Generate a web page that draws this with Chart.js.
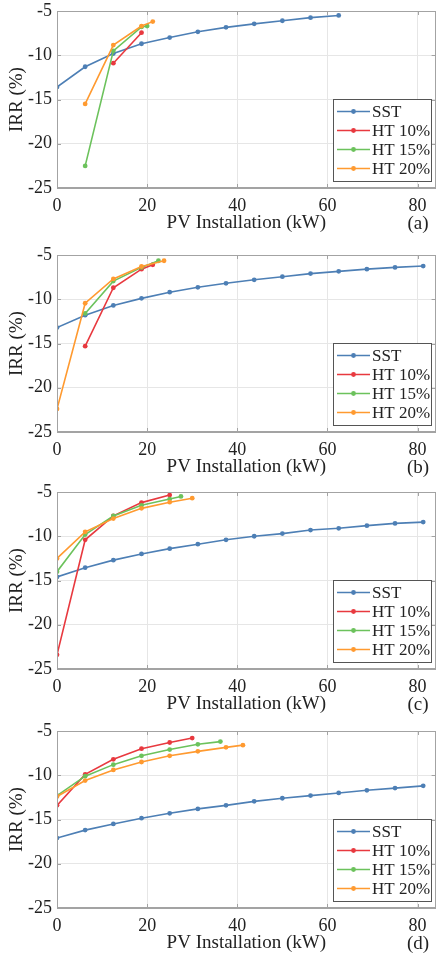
<!DOCTYPE html>
<html>
<head>
<meta charset="utf-8">
<script src="https://cdn.jsdelivr.net/npm/chart.js@4.4.1/dist/chart.umd.min.js"></script>
<style>
  body { margin: 0; background: #fff; width: 438px; overflow: hidden; }
  canvas { display: block; }
</style>
</head>
<body>
<canvas id="grafica_a" width="438" height="244"></canvas>
<canvas id="grafica_b" width="438" height="237"></canvas>
<canvas id="grafica_c" width="438" height="239"></canvas>
<canvas id="grafica_d" width="438" height="238"></canvas>
<script>
// ticks y nombres
const ticks_x = [0, 20, 40, 60, 80]
const ticks_y = [-25, -20, -15, -10, -5]
const nombres_series = ['SST', 'HT 10%', 'HT 15%', 'HT 20%']
const etiquetas_panel = ['(a)', '(b)', '(c)', '(d)']

// paso comun de la instalacion PV (kW)
const pv_sst_corto = [0, 6.25, 12.5, 18.75, 25, 31.25, 37.5, 43.75, 50, 56.25, 62.5]
const pv_sst_largo = [0, 6.25, 12.5, 18.75, 25, 31.25, 37.5, 43.75, 50, 56.25, 62.5, 68.75, 75, 81.25]

// (a)
const irr_sst_a = [-13.6, -11.3, -9.8, -8.7, -8.0, -7.35, -6.85, -6.45, -6.1, -5.75, -5.5]
const pv_ht10_a = [12.5, 18.75]
const irr_ht10_a = [-10.9, -7.45]
const pv_ht15_a = [6.25, 12.5, 18.75, 20]
const irr_ht15_a = [-22.5, -9.5, -6.8, -6.7]
const pv_ht20_a = [6.25, 12.5, 18.75, 21.25]
const irr_ht20_a = [-15.5, -8.85, -6.7, -6.2]

// (b)
const irr_sst_b = [-13.2, -11.8, -10.7, -9.9, -9.2, -8.65, -8.2, -7.8, -7.45, -7.1, -6.85, -6.6, -6.4, -6.25]
const pv_ht10_b = [6.25, 12.5, 18.75, 21.25]
const irr_ht10_b = [-15.3, -8.7, -6.6, -6.1]
const pv_ht15_b = [6.25, 12.5, 18.75, 22.5]
const irr_ht15_b = [-11.6, -7.95, -6.4, -5.65]
const pv_ht20_b = [0, 6.25, 12.5, 18.75, 23.75]
const irr_ht20_b = [-22.4, -10.45, -7.7, -6.3, -5.65]

// (c)
const irr_sst_c = [-14.6, -13.55, -12.7, -12.0, -11.4, -10.9, -10.4, -10.0, -9.7, -9.3, -9.1, -8.8, -8.55, -8.4]
const pv_ht10_c = [0, 6.25, 12.5, 18.75, 25]
const irr_ht10_c = [-23.4, -10.4, -7.7, -6.2, -5.35]
const pv_ht15_c = [0, 6.25, 12.5, 18.75, 25, 27.5]
const irr_ht15_c = [-14.0, -9.8, -7.7, -6.5, -5.8, -5.5]
const pv_ht20_c = [0, 6.25, 12.5, 18.75, 25, 30]
const irr_ht20_c = [-12.5, -9.5, -8.0, -6.85, -6.15, -5.7]

// (d)
const irr_sst_d = [-17.1, -16.2, -15.5, -14.85, -14.3, -13.8, -13.4, -12.95, -12.6, -12.3, -12.0, -11.7, -11.45, -11.2]
const pv_ht10_d = [0, 6.25, 12.5, 18.75, 25, 30]
const irr_ht10_d = [-13.4, -9.9, -8.2, -7.0, -6.3, -5.8]
const pv_ht15_d = [0, 6.25, 12.5, 18.75, 25, 31.25, 36.25]
const irr_ht15_d = [-12.3, -10.1, -8.8, -7.8, -7.1, -6.5, -6.2]
const pv_ht20_d = [0, 6.25, 12.5, 18.75, 25, 31.25, 37.5, 41.25]
const irr_ht20_d = [-12.4, -10.6, -9.4, -8.5, -7.8, -7.3, -6.85, -6.6]

const colores = ['#4d7fb5', '#e8393f', '#6cc25c', '#ff9a30']
const fuente = '"Liberation Serif", "Times New Roman", serif'
const color_texto = '#222'
const color_marco = '#a3a3a3'

function puntos(xs, ys) {
  return xs.map((x, i) => ({ x: x, y: ys[i] }))
}

// caja completa, ticks internos, leyenda y etiqueta del panel
const marco_matlab = {
  id: 'marco_matlab',
  afterDraw(chart, args, opts) {
    const ctx = chart.ctx
    const a = chart.chartArea
    ctx.save()
    ctx.strokeStyle = color_marco
    ctx.lineWidth = 1
    ctx.strokeRect(Math.round(a.left) + 0.5, Math.round(a.top) + 0.5,
      Math.round(a.right - a.left) - 1, Math.round(a.bottom - a.top) - 1)

    // ticks hacia dentro
    const sx = chart.scales.x, sy = chart.scales.y
    ctx.beginPath()
    ticks_x.forEach(v => {
      const px = Math.round(sx.getPixelForValue(v)) + 0.5
      ctx.moveTo(px, a.bottom); ctx.lineTo(px, a.bottom - 4)
      ctx.moveTo(px, a.top); ctx.lineTo(px, a.top + 4)
    })
    ticks_y.forEach(v => {
      const py = Math.round(sy.getPixelForValue(v)) + 0.5
      ctx.moveTo(a.left, py); ctx.lineTo(a.left + 4, py)
      ctx.moveTo(a.right, py); ctx.lineTo(a.right - 4, py)
    })
    ctx.stroke()

    // leyenda
    const izq = Math.round(a.right) - 103
    const der = Math.round(a.right) - 5
    const arriba = Math.round(a.bottom) - 89
    const abajo = Math.round(a.bottom) - 7
    ctx.fillStyle = '#fff'
    ctx.fillRect(izq, arriba, der - izq, abajo - arriba)
    ctx.strokeStyle = '#555'
    ctx.strokeRect(izq + 0.5, arriba + 0.5, der - izq, abajo - arriba)
    ctx.font = '17px ' + fuente
    ctx.textAlign = 'left'
    ctx.textBaseline = 'middle'
    chart.data.datasets.forEach((ds, i) => {
      const y = arriba + 12.5 + 19 * i
      ctx.strokeStyle = ds.borderColor
      ctx.lineWidth = 1.6
      ctx.beginPath()
      ctx.moveTo(izq + 4, y); ctx.lineTo(izq + 37, y)
      ctx.stroke()
      ctx.fillStyle = ds.borderColor
      ctx.beginPath()
      ctx.arc(izq + 20.5, y, 2.4, 0, Math.PI * 2)
      ctx.fill()
      ctx.fillStyle = color_texto
      ctx.fillText(ds.label, izq + 39, y + 1)
    })

    // etiqueta (a), (b)...
    ctx.font = '19px ' + fuente
    ctx.textAlign = 'center'
    ctx.fillStyle = color_texto
    ctx.fillText(opts.etiqueta, 418, a.bottom + 36)
    ctx.restore()
  }
}

function crear_grafica(id, etiqueta, series) {
  const canvas = document.getElementById(id)
  const alto = canvas.height
  const datasets = series.map((s, i) => ({
    label: nombres_series[i],
    data: puntos(s[0], s[1]),
    borderColor: colores[i],
    backgroundColor: colores[i],
    borderWidth: 1.6,
    pointRadius: 2.4,
    pointHoverRadius: 2.4,
    pointBorderWidth: 0,
    tension: 0,
    order: series.length - i
  }))
  return new Chart(canvas, {
    type: 'line',
    data: { datasets: datasets },
    plugins: [marco_matlab],
    options: {
      responsive: false,
      animation: false,
      events: [],
      layout: { padding: { top: 11, right: 1, left: 0, bottom: 0 } },
      plugins: {
        legend: { display: false },
        tooltip: { enabled: false },
        marco_matlab: { etiqueta: etiqueta }
      },
      scales: {
        x: {
          type: 'linear', min: 0, max: 84,
          afterBuildTicks: s => { s.ticks = ticks_x.map(v => ({ value: v })) },
          afterFit: s => { s.height = alto - 188; s.paddingLeft = 0; s.paddingRight = 0 },
          grid: { color: '#e6e6e6', drawTicks: false },
          border: { color: color_marco },
          ticks: { padding: 7, maxRotation: 0, color: color_texto, font: { family: fuente, size: 18 } },
          title: {
            display: true, text: 'PV Installation (kW)', color: color_texto,
            font: { family: fuente, size: 19 },
            padding: { top: 0, bottom: Math.max(0, alto - 223 - 11.4) }
          }
        },
        y: {
          type: 'linear', min: -25, max: -5,
          afterBuildTicks: s => { s.ticks = ticks_y.map(v => ({ value: v })) },
          afterFit: s => { s.width = 57; s.paddingTop = 0; s.paddingBottom = 0 },
          grid: { color: '#e6e6e6', drawTicks: false },
          border: { color: color_marco },
          ticks: { padding: 5, color: color_texto, font: { family: fuente, size: 18 } },
          title: {
            display: true, text: 'IRR (%)', color: color_texto,
            font: { family: fuente, size: 19 },
            padding: { top: 6, bottom: 0 }
          }
        }
      }
    }
  })
}

crear_grafica('grafica_a', etiquetas_panel[0], [
  [pv_sst_corto, irr_sst_a], [pv_ht10_a, irr_ht10_a], [pv_ht15_a, irr_ht15_a], [pv_ht20_a, irr_ht20_a]
])
crear_grafica('grafica_b', etiquetas_panel[1], [
  [pv_sst_largo, irr_sst_b], [pv_ht10_b, irr_ht10_b], [pv_ht15_b, irr_ht15_b], [pv_ht20_b, irr_ht20_b]
])
crear_grafica('grafica_c', etiquetas_panel[2], [
  [pv_sst_largo, irr_sst_c], [pv_ht10_c, irr_ht10_c], [pv_ht15_c, irr_ht15_c], [pv_ht20_c, irr_ht20_c]
])
crear_grafica('grafica_d', etiquetas_panel[3], [
  [pv_sst_largo, irr_sst_d], [pv_ht10_d, irr_ht10_d], [pv_ht15_d, irr_ht15_d], [pv_ht20_d, irr_ht20_d]
])
</script>
</body>
</html>
